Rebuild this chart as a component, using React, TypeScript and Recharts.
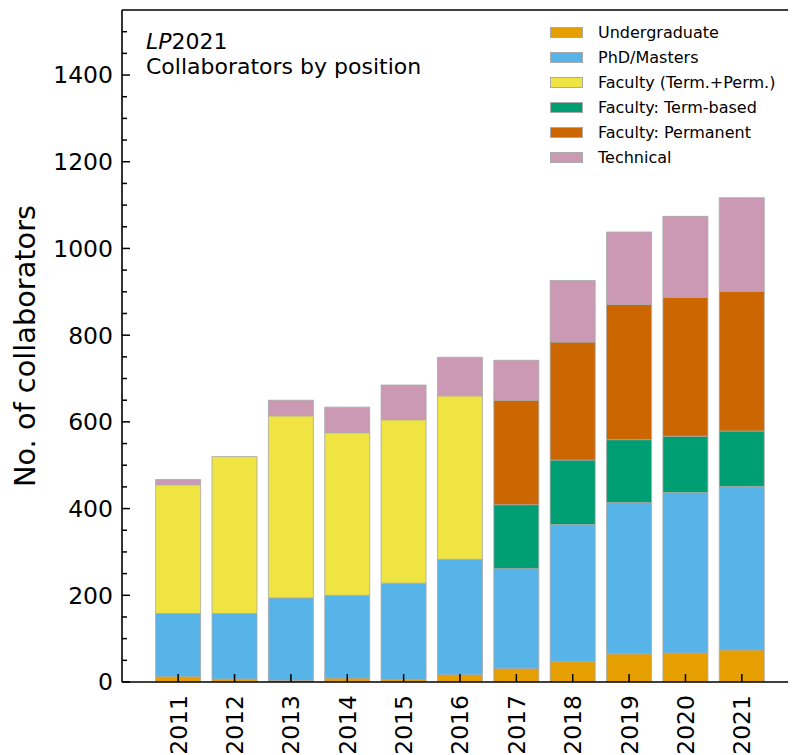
import React from "react";
import { BarChart, Bar, XAxis, YAxis, ReferenceLine } from "recharts";

const years = ["2011", "2012", "2013", "2014", "2015", "2016", "2017", "2018", "2019", "2020", "2021"];
const undergrad = [13, 7, 4, 9, 6, 17, 31, 47, 65, 67, 74];
const phdMasters = [145, 151, 190, 191, 222, 266, 231, 316, 349, 370, 377];
const facultyAll = [297, 362, 420, 375, 377, 377, 0, 0, 0, 0, 0];
const facultyTerm = [0, 0, 0, 0, 0, 0, 147, 149, 145, 130, 128];
const facultyPerm = [0, 0, 0, 0, 0, 0, 241, 272, 312, 320, 322];
const technical = [12, 0, 36, 59, 80, 89, 92, 142, 167, 187, 216];

const yTicks = Array.from({ length: 31 }, (_, i) => i * 50);

const series = [
  { key: "undergrad", name: "Undergraduate", color: "#E69F00" },
  { key: "phd", name: "PhD/Masters", color: "#56B4E9" },
  { key: "facAll", name: "Faculty (Term.+Perm.)", color: "#F0E442" },
  { key: "facTerm", name: "Faculty: Term-based", color: "#009E73" },
  { key: "facPerm", name: "Faculty: Permanent", color: "#CC6600" },
  { key: "tech", name: "Technical", color: "#CC99B4" },
];

const data = years.map((year, i) => ({
  year,
  undergrad: undergrad[i],
  phd: phdMasters[i],
  facAll: facultyAll[i],
  facTerm: facultyTerm[i],
  facPerm: facultyPerm[i],
  tech: technical[i],
}));

const FONT = "'DejaVu Sans', sans-serif";

function YTick(props: any) {
  const { x, y, payload } = props;
  const v = payload.value;
  const major = v % 200 === 0;
  return (
    <g>
      <line x1={x} x2={x + (major ? 8 : 5)} y1={y} y2={y} stroke="#000" strokeWidth={1.5} />
      {major && (
        <text x={x - 9} y={y} dy="0.36em" textAnchor="end" fontSize={23.5} fill="#000" fontFamily={FONT}>
          {v}
        </text>
      )}
    </g>
  );
}

function XTick(props: any) {
  const { x, y, payload } = props;
  return (
    <g>
      <line x1={x} x2={x} y1={y} y2={y - 8} stroke="#000" strokeWidth={1.5} />
      <text
        transform={`translate(${x},${y + 13}) rotate(-90)`}
        dy="0.36em"
        textAnchor="end"
        fontSize={23.5}
        fill="#000"
        fontFamily={FONT}
      >
        {payload.value}
      </text>
    </g>
  );
}

function LegendBox() {
  return (
    <div style={{ fontFamily: FONT, fontSize: 16, color: "#000" }}>
      {series.map((s) => (
        <div key={s.key} style={{ display: "flex", alignItems: "center", height: 25 }}>
          <div
            style={{
              width: 31,
              height: 9,
              background: s.color,
              border: "1px solid #aaa",
              marginRight: 15,
            }}
          />
          <span>{s.name}</span>
        </div>
      ))}
    </div>
  );
}

export default function App() {
  return (
    <div style={{ position: "relative", width: 788, height: 747, fontFamily: FONT }}>
      <BarChart
        width={788}
        height={747}
        data={data}
        margin={{ top: 2, right: 0, left: 0, bottom: 0 }}
        barCategoryGap="10%"
      >
        <XAxis
          dataKey="year"
          height={73}
          padding={{ left: 28, right: 26 }}
          axisLine={{ stroke: "#000", strokeWidth: 1.6 }}
          tickLine={false}
          tickSize={0}
          tickMargin={0}
          interval={0}
          tick={<XTick />}
        />
        <YAxis
          width={114}
          domain={[0, 1550]}
          ticks={yTicks}
          interval={0}
          allowDataOverflow
          axisLine={{ stroke: "#000", strokeWidth: 1.6 }}
          tickLine={false}
          tickSize={0}
          tickMargin={0}
          tick={<YTick />}
        />
        <ReferenceLine y={1550} stroke="#000" strokeWidth={1.6} />
        {series.map((s) => (
          <Bar
            key={s.key}
            dataKey={s.key}
            name={s.name}
            stackId="a"
            fill={s.color}
            stroke="#a8a8a8"
            strokeWidth={0.8}
            isAnimationActive={false}
          />
        ))}
      </BarChart>
      <div style={{ position: "absolute", top: 12, left: 542 }}>
        <LegendBox />
      </div>
      <div
        style={{
          position: "absolute",
          left: 138,
          top: 21,
          fontSize: 22,
          lineHeight: "25px",
          color: "#000",
          whiteSpace: "nowrap",
        }}
      >
        <div>
          <i>LP</i>2021
        </div>
        <div>Collaborators by position</div>
      </div>
      <div
        style={{
          position: "absolute",
          left: 17,
          top: 338,
          transform: "translate(-50%, -50%) rotate(-90deg)",
          fontSize: 28.8,
          whiteSpace: "nowrap",
          color: "#000",
        }}
      >
        No. of collaborators
      </div>
    </div>
  );
}
